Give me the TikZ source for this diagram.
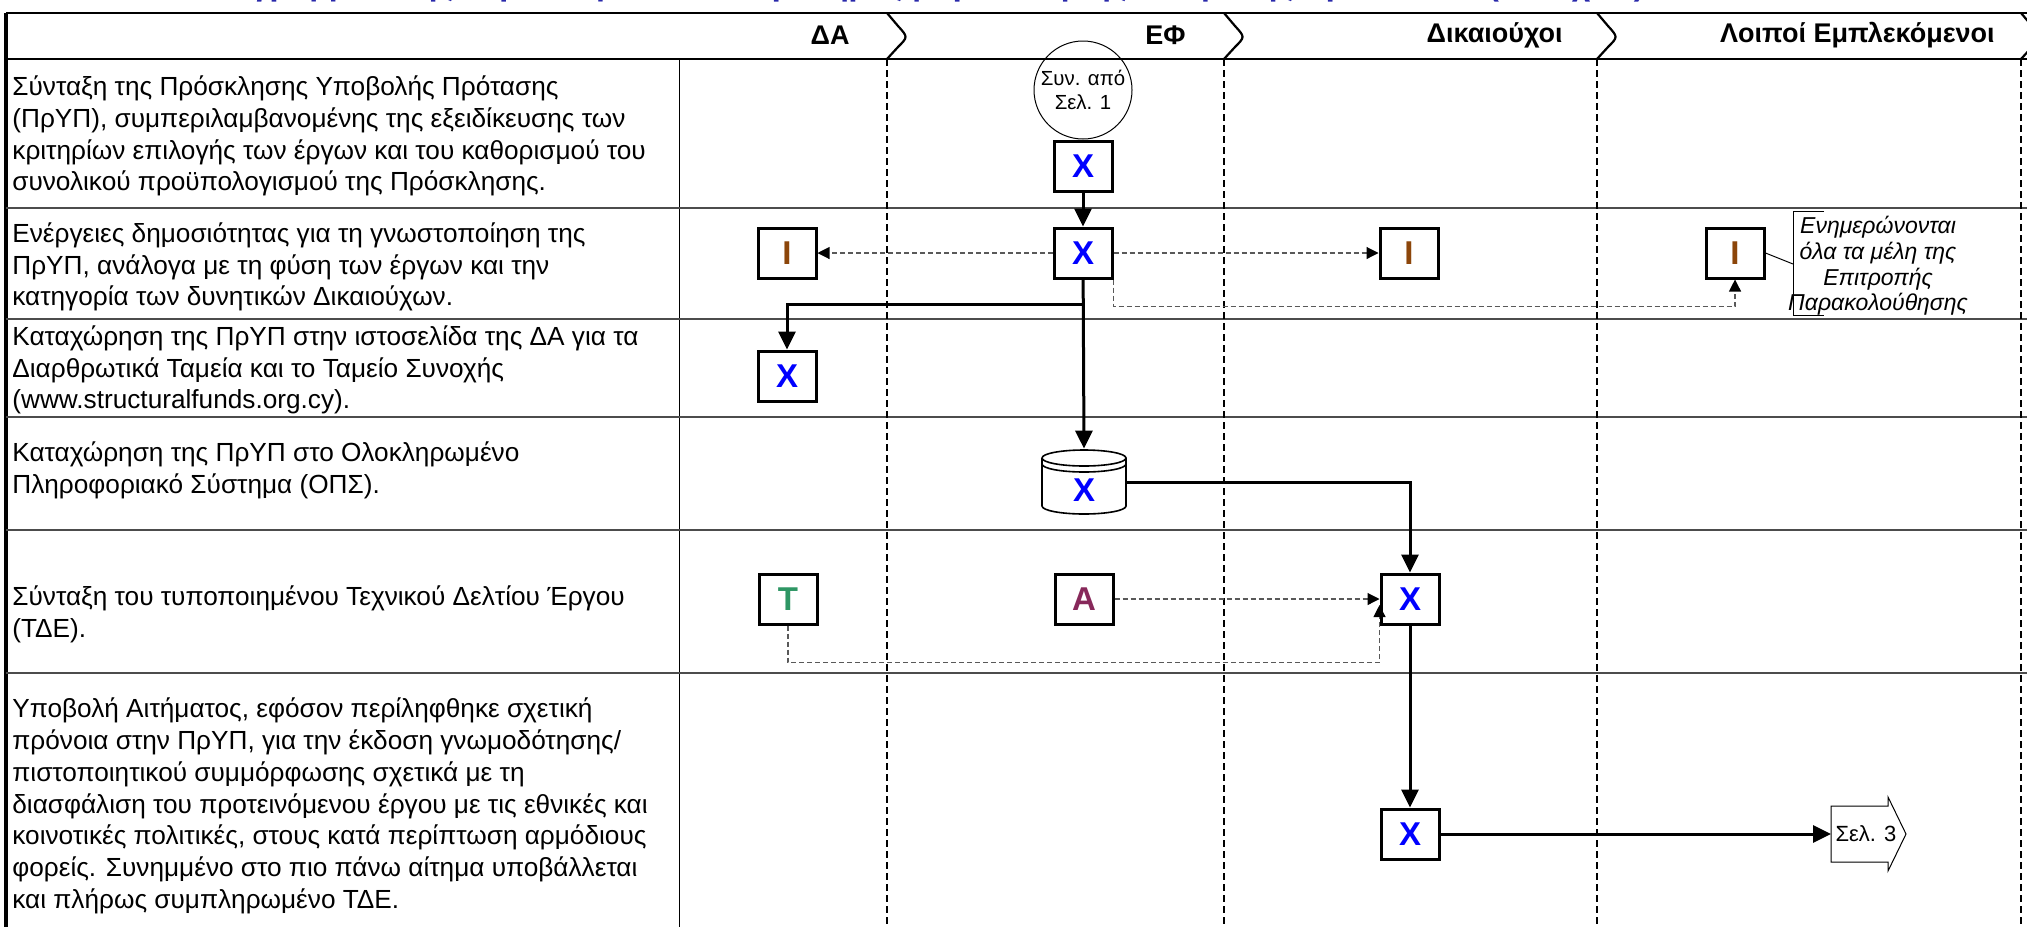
\documentclass[tikz,border=0pt]{standalone}
\usepackage{fontspec}
\setmainfont{Liberation Sans}
\usetikzlibrary{arrows.meta,calc,shapes.geometric}

\definecolor{xblue}{RGB}{0,0,255}
\definecolor{ibrown}{RGB}{140,70,10}
\definecolor{tgreen}{RGB}{46,150,100}
\definecolor{apurple}{RGB}{135,40,90}
\definecolor{titleblue}{RGB}{40,40,170}

\begin{document}
\begin{tikzpicture}[x=0.5pt,y=-0.5pt,
  actbox/.style={draw=black, line width=1.5pt, fill=white, minimum width=29pt,
    minimum height=25pt, inner sep=0pt, font=\fontsize{16.5}{16.5}\selectfont\bfseries},
  desc/.style={anchor=west, align=left, inner sep=0pt, font=\fontsize{13.1}{15.9}\selectfont},
  lanehead/.style={anchor=east, inner sep=0pt, font=\fontsize{13.5}{13.5}\selectfont\bfseries},
  lanedash/.style={line width=1.35pt, dash pattern=on 3.5pt off 2pt},
  rowline/.style={line width=0.7pt, black!70},
  flow/.style={line width=1.5pt, -{Triangle[length=9pt,width=8.5pt]}},
  info/.style={line width=0.55pt, black!65, dash pattern=on 2.5pt off 1.5pt,
    -{Triangle[length=6pt,width=6pt,color=black]}},
  thinline/.style={line width=0.5pt}
]
\useasboundingbox (0,0) rectangle (2027,927);
\clip (0,0) rectangle (2027,927);

% heading, almost entirely above the page edge
\node[anchor=base west, inner sep=0pt, text=titleblue,
  font=\fontsize{16}{16}\selectfont\bfseries] (title) at (200,-4.5)
  {Διάγραμμα Ροής: Προετοιμασία και Προκήρυξη Πρόσκλησης Υποβολής Προτάσεων (συνέχεια)};

% frame of the swimlane table
\draw[line width=0.8pt] (6,13) -- (2027,13);
\draw[line width=0.8pt] (6,59) -- (2027,59);
\draw[line width=1.6pt] (6,13) -- (6,927);
\draw[thinline] (679,59) -- (679,927);
\foreach \ry in {208,319,417,530,673}
  \draw[rowline] (6,\ry) -- (2027,\ry);

% lane separators with their chevrons in the heading
\foreach \lx in {887,1224,1597,2021}{
  \draw[line width=1.1pt] (\lx,13) -- (\lx+11,26) .. controls (\lx+21,37) .. (\lx+11,47) -- (\lx,59);
  \draw[lanedash] (\lx,59) -- (\lx,927);
}

\node[lanehead] (hDA) at (850,35) {ΔΑ};
\node[lanehead] (hEF) at (1186,35) {ΕΦ};
\node[lanehead] (hDK) at (1563,35) {Δικαιούχοι};
\node[lanehead] (hLE) at (1995,35) {Λοιποί Εμπλεκόμενοι};

% step descriptions
\node[desc] (d1) at (12,136) {Σύνταξη της Πρόσκλησης Υποβολής Πρότασης\\(ΠρΥΠ), συμπεριλαμβανομένης της εξειδίκευσης των\\κριτηρίων επιλογής των έργων και του καθορισμού του\\συνολικού προϋπολογισμού της Πρόσκλησης.};
\node[desc] (d2) at (12,267) {Ενέργειες δημοσιότητας για τη γνωστοποίηση της\\ΠρΥΠ, ανάλογα με τη φύση των έργων και την\\κατηγορία των δυνητικών Δικαιούχων.};
\node[desc] (d3) at (12,370) {Καταχώρηση της ΠρΥΠ στην ιστοσελίδα της ΔΑ για τα\\Διαρθρωτικά Ταμεία και το Ταμείο Συνοχής\\(www.structuralfunds.org.cy).};
\node[desc] (d4) at (12,470) {Καταχώρηση της ΠρΥΠ στο Ολοκληρωμένο\\Πληροφοριακό Σύστημα (ΟΠΣ).};
\node[desc] (d5) at (12,614) {Σύνταξη του τυποποιημένου Τεχνικού Δελτίου Έργου\\(ΤΔΕ).};
\node[desc] (d6) at (12,806) {Υποβολή Αιτήματος, εφόσον περίληφθηκε σχετική\\πρόνοια στην ΠρΥΠ, για την έκδοση γνωμοδότησης/\\πιστοποιητικού συμμόρφωσης σχετικά με τη\\διασφάλιση του προτεινόμενου έργου με τις εθνικές και\\κοινοτικές πολιτικές, στους κατά περίπτωση αρμόδιους\\φορείς. Συνημμένο στο πιο πάνω αίτημα υποβάλλεται\\και πλήρως συμπληρωμένο ΤΔΕ.};

% off-page connector from page 1
\node[circle, draw, line width=0.5pt, minimum size=49pt, inner sep=0pt, align=center,
  font=\fontsize{10.2}{12.3}\selectfont] (c0) at (1083,90) {Συν. από\\Σελ. 1};

% activity boxes
\node[actbox, text=xblue] (x1) at (1083,166) {X};
\node[actbox, text=xblue] (x2) at (1083,253) {X};
\node[actbox, text=ibrown] (ida) at (787,253) {I};
\node[actbox, text=ibrown] (idk) at (1409,253) {I};
\node[actbox, text=ibrown] (ile) at (1735,253) {I};
\node[actbox, text=xblue] (x3) at (787,376) {X};
\node[actbox, text=tgreen] (t5) at (788,599) {T};
\node[actbox, text=apurple] (a5) at (1084,599) {A};
\node[actbox, text=xblue] (x5) at (1410,599) {X};
\node[actbox, text=xblue] (x6) at (1410,834) {X};

% database (information system)
\node[inner sep=0pt, minimum width=42pt, minimum height=33pt] (cyl) at (1084,482) {};
\fill[white] (1042,458) rectangle (1126,506);
\draw[line width=0.8pt, fill=white] (1042,458) -- (1042,506)
  arc[start angle=180, end angle=360, x radius=21pt, y radius=4pt] -- (1126,458);
\draw[line width=0.8pt, fill=white] (1084,458) ellipse[x radius=21pt, y radius=4pt];
\draw[line width=0.8pt] (1042,464) arc[start angle=180, end angle=360, x radius=21pt, y radius=4pt];
\node[text=xblue, inner sep=0pt, font=\fontsize{16.5}{16.5}\selectfont\bfseries] (cylx) at (1084,490) {X};

% off-page connector to page 3
\coordinate (s3w) at (1831,834);
\draw[line width=0.5pt, fill=white] (1831,806) -- (1888,806) -- (1888,797) -- (1906,834)
  -- (1888,871) -- (1888,862) -- (1831,862) -- cycle;
\node[inner sep=0pt, font=\fontsize{11}{11}\selectfont] (s3) at (1866,834) {Σελ. 3};

% note on the monitoring committee
\coordinate (brk) at (1793,264);
\draw[thinline] (1824,211) -- (1793,211) -- (1793,315) -- (1824,315);
\draw[thinline] (ile.east) -- (brk);
\node[align=center, inner sep=0pt, font=\fontsize{11.5}{12.9}\selectfont\itshape] (note) at (1878,266)
  {Ενημερώνονται\\όλα τα μέλη της\\Επιτροπής\\Παρακολούθησης};

% flow connectors
\coordinate (br) at ($(x2.south)+(0,25)$);
\draw[flow] (x1) -- (x2);
\draw[flow] (x2) -- (cyl.north);
\draw[flow] (br) -| (x3.north);
\draw[flow] (cyl.east) -| (x5.north);
\draw[flow] (x5) -- (x6);
\draw[flow] (x6) -- (s3w);

% information connectors
\draw[info] (x2) -- (ida);
\draw[info] (x2) -- (idk);
\draw[info] (x2.south east) |- ($(ile.south)+(0,27)$) -- (ile.south);
\draw[info] (a5) -- (x5);
\draw[info] (t5.south) |- ($(x5.south west)+(0,37)$) -- ($(x5.west)+(0,6)$);
\end{tikzpicture}
\end{document}
